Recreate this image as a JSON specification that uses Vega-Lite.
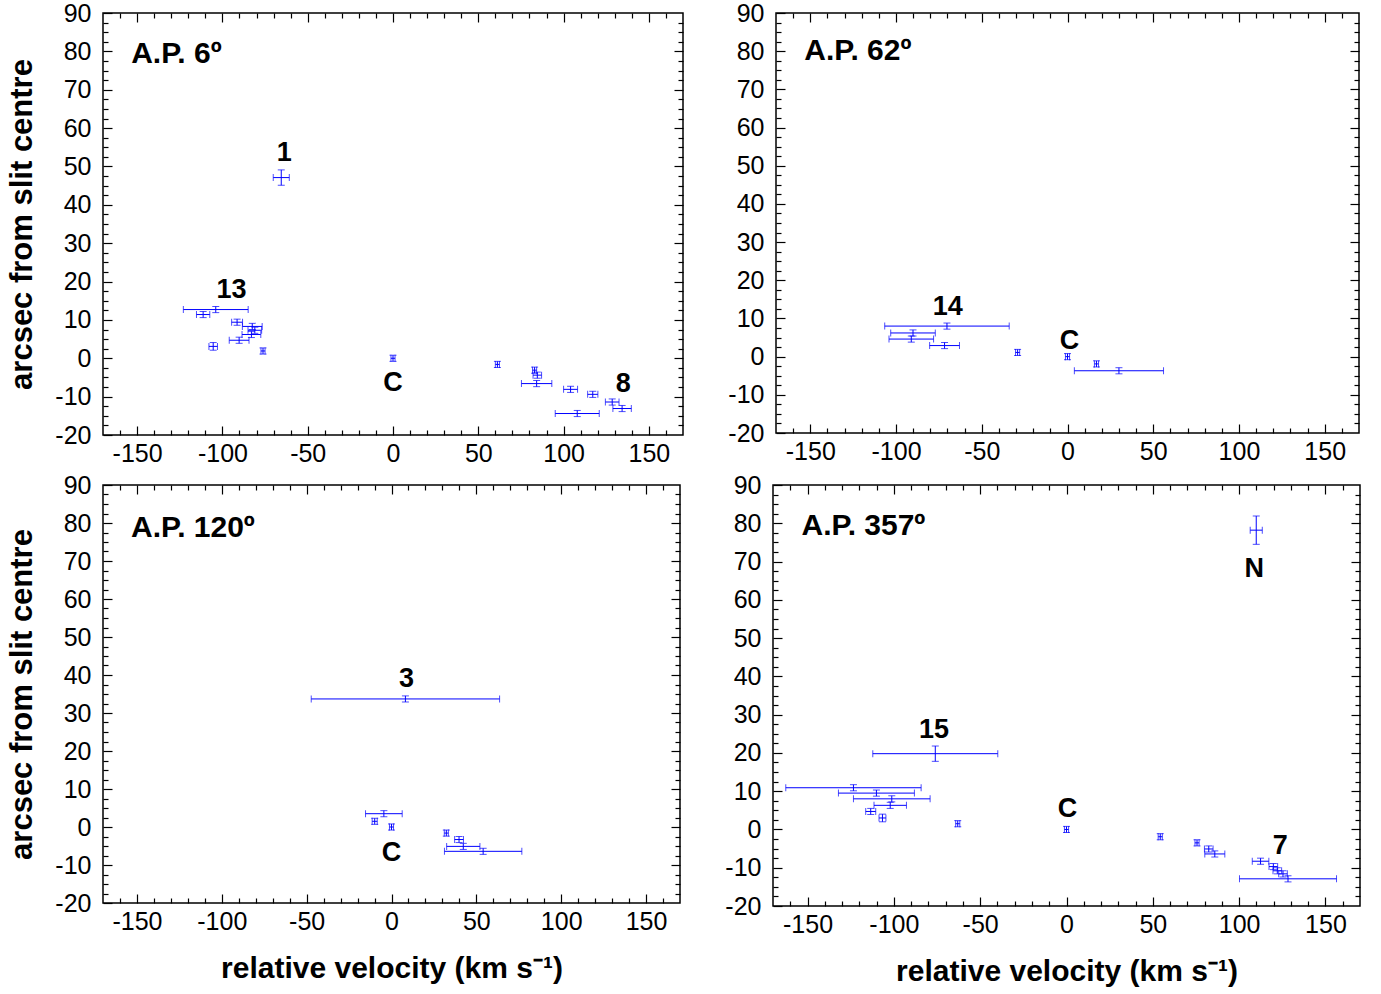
{
  "$schema": "https://vega.github.io/schema/vega-lite/v6.json",
  "padding": {"left": 6, "top": 0, "right": 0, "bottom": 0},
  "background": "white",
  "spacing": 1,
  "config": {
    "font": "Liberation Sans",
    "view": {"stroke": "black", "strokeWidth": 1.5},
    "axis": {
      "domain": false, "grid": false, "labelOverlap": false,
      "labelFont": "Liberation Sans", "labelFontSize": 25, "labelColor": "black",
      "tickColor": "black", "tickWidth": 1.2,
      "titleFont": "Liberation Sans", "titleFontSize": 30, "titleFontWeight": "bold", "titleColor": "black"
    }
  },
  "datasets": {
    "pts": [
      {"p": "p1", "v": -65.5, "a": 47.1, "ve": 4.7, "ae": 2.0},
      {"p": "p1", "v": -103.9, "a": 12.7, "ve": 19, "ae": 0.8},
      {"p": "p1", "v": -111.3, "a": 11.4, "ve": 3.9, "ae": 0.8},
      {"p": "p1", "v": -91.4, "a": 9.4, "ve": 3.2, "ae": 0.8},
      {"p": "p1", "v": -82.5, "a": 8.3, "ve": 5.8, "ae": 0.8},
      {"p": "p1", "v": -81, "a": 7.3, "ve": 4, "ae": 0.8},
      {"p": "p1", "v": -83, "a": 6.2, "ve": 5.5, "ae": 0.8},
      {"p": "p1", "v": -90.2, "a": 4.7, "ve": 5.8, "ae": 0.8},
      {"p": "p1", "v": -105.4, "a": 3.1, "ve": 2.5, "ae": 1.0},
      {"p": "p1", "v": -76.2, "a": 1.9, "ve": 1.2, "ae": 0.8},
      {"p": "p1", "v": 0, "a": 0, "ve": 1.2, "ae": 0.8},
      {"p": "p1", "v": 61.2, "a": -1.6, "ve": 1.2, "ae": 0.8},
      {"p": "p1", "v": 83, "a": -3.1, "ve": 1.2, "ae": 0.8},
      {"p": "p1", "v": 84.6, "a": -4.4, "ve": 2.5, "ae": 0.8},
      {"p": "p1", "v": 84.2, "a": -6.6, "ve": 8.9, "ae": 0.8},
      {"p": "p1", "v": 104.1, "a": -8.1, "ve": 4.1, "ae": 0.8},
      {"p": "p1", "v": 117.1, "a": -9.4, "ve": 3, "ae": 0.8},
      {"p": "p1", "v": 128.5, "a": -11.4, "ve": 4, "ae": 0.8},
      {"p": "p1", "v": 134.3, "a": -13.1, "ve": 5.4, "ae": 0.8},
      {"p": "p1", "v": 108, "a": -14.4, "ve": 12.9, "ae": 0.8},
      {"p": "p2", "v": -70.3, "a": 8.0, "ve": 36.3, "ae": 0.8},
      {"p": "p2", "v": -90.1, "a": 6.2, "ve": 13, "ae": 0.8},
      {"p": "p2", "v": -91.1, "a": 4.6, "ve": 13, "ae": 0.8},
      {"p": "p2", "v": -71.7, "a": 2.9, "ve": 8.7, "ae": 0.8},
      {"p": "p2", "v": -29.1, "a": 1.1, "ve": 1.2, "ae": 0.8},
      {"p": "p2", "v": 0, "a": 0, "ve": 1.2, "ae": 0.8},
      {"p": "p2", "v": 16.9, "a": -1.9, "ve": 1.2, "ae": 0.8},
      {"p": "p2", "v": 30, "a": -3.7, "ve": 26, "ae": 0.8},
      {"p": "p3", "v": 8.2, "a": 33.7, "ve": 55.5, "ae": 0.8},
      {"p": "p3", "v": -4.5, "a": 3.5, "ve": 10.8, "ae": 0.8},
      {"p": "p3", "v": -9.9, "a": 1.5, "ve": 1.5, "ae": 0.8},
      {"p": "p3", "v": 0, "a": 0, "ve": 1.2, "ae": 0.8},
      {"p": "p3", "v": 32.3, "a": -1.6, "ve": 1.2, "ae": 0.8},
      {"p": "p3", "v": 39.8, "a": -3.3, "ve": 2.6, "ae": 0.8},
      {"p": "p3", "v": 42.3, "a": -5.1, "ve": 9.8, "ae": 0.8},
      {"p": "p3", "v": 54, "a": -6.4, "ve": 22.8, "ae": 0.8},
      {"p": "p4", "v": 109.9, "a": 78.2, "ve": 3.5, "ae": 3.7},
      {"p": "p4", "v": -76, "a": 19.8, "ve": 36.2, "ae": 2.0},
      {"p": "p4", "v": -123.4, "a": 10.9, "ve": 39.2, "ae": 0.8},
      {"p": "p4", "v": -110.1, "a": 9.5, "ve": 22, "ae": 0.8},
      {"p": "p4", "v": -101.2, "a": 8.0, "ve": 22.2, "ae": 0.8},
      {"p": "p4", "v": -102.1, "a": 6.3, "ve": 9.4, "ae": 0.8},
      {"p": "p4", "v": -113.4, "a": 4.7, "ve": 2.9, "ae": 0.8},
      {"p": "p4", "v": -106.6, "a": 3.0, "ve": 2, "ae": 1.0},
      {"p": "p4", "v": -63, "a": 1.5, "ve": 1.2, "ae": 0.8},
      {"p": "p4", "v": 0, "a": 0, "ve": 1.2, "ae": 0.8},
      {"p": "p4", "v": 54.3, "a": -1.9, "ve": 1.2, "ae": 0.8},
      {"p": "p4", "v": 75.6, "a": -3.5, "ve": 1.2, "ae": 0.8},
      {"p": "p4", "v": 82.4, "a": -5.1, "ve": 2.5, "ae": 0.8},
      {"p": "p4", "v": 85.9, "a": -6.4, "ve": 5.8, "ae": 0.8},
      {"p": "p4", "v": 112.4, "a": -8.3, "ve": 4.8, "ae": 0.8},
      {"p": "p4", "v": 119.8, "a": -9.7, "ve": 2.5, "ae": 0.8},
      {"p": "p4", "v": 122.1, "a": -10.8, "ve": 2.5, "ae": 0.8},
      {"p": "p4", "v": 125.4, "a": -11.6, "ve": 2.5, "ae": 0.8},
      {"p": "p4", "v": 128.3, "a": -12.9, "ve": 28.1, "ae": 0.8}
    ],
    "lab": [
      {"p": "p1", "v": -63.7, "a": 53.6, "t": "1"},
      {"p": "p1", "v": -94.7, "a": 17.7, "t": "13"},
      {"p": "p1", "v": 0, "a": -6.5, "t": "C"},
      {"p": "p1", "v": 135, "a": -6.8, "t": "8"},
      {"p": "p2", "v": -69.8, "a": 13, "t": "14"},
      {"p": "p2", "v": 1.2, "a": 4.1, "t": "C"},
      {"p": "p3", "v": 8.8, "a": 38.9, "t": "3"},
      {"p": "p3", "v": 0, "a": -6.8, "t": "C"},
      {"p": "p4", "v": 108.7, "a": 68, "t": "N"},
      {"p": "p4", "v": -76.7, "a": 26, "t": "15"},
      {"p": "p4", "v": 0.6, "a": 5.4, "t": "C"},
      {"p": "p4", "v": 123.8, "a": -4.2, "t": "7"}
    ],
    "ttl": [
      {"p": "p1", "v": -153.5, "a": 79.2, "t": "A.P. 6º"},
      {"p": "p2", "v": -153.5, "a": 80, "t": "A.P. 62º"},
      {"p": "p3", "v": -153.5, "a": 78.7, "t": "A.P. 120º"},
      {"p": "p4", "v": -153.5, "a": 79.3, "t": "A.P. 357º"}
    ]
  },
  "vconcat": [
    {
      "spacing": 42,
      "hconcat": [
        {
          "width": 580, "height": 422,
          "layer": [
            {"data": {"name": "pts"}, "transform": [{"filter": "datum.p === 'p1'"}],
             "mark": {"type": "errorbar", "ticks": {"size": 7}, "color": "#0000ff", "thickness": 1},
             "encoding": {
               "x": {"field": "v", "type": "quantitative", "scale": {"domain": [-170, 170], "nice": false, "zero": false},
                     "axis": {"orient": "bottom", "values": [-160,-150,-140,-130,-120,-110,-100,-90,-80,-70,-60,-50,-40,-30,-20,-10,0,10,20,30,40,50,60,70,80,90,100,110,120,130,140,150,160], "labelExpr": "datum.value % 50 === 0 ? '' + datum.value : ''", "tickSize": {"condition": {"test": "datum.value % 50 === 0", "value": -9}, "value": -5}, "labelPadding": 15, "title": null}},
               "xError": {"field": "ve"},
               "y": {"field": "a", "type": "quantitative", "scale": {"domain": [-20, 90], "nice": false, "zero": false},
                     "axis": {"orient": "left", "values": [-20,-17.5,-15,-12.5,-10,-7.5,-5,-2.5,0,2.5,5,7.5,10,12.5,15,17.5,20,22.5,25,27.5,30,32.5,35,37.5,40,42.5,45,47.5,50,52.5,55,57.5,60,62.5,65,67.5,70,72.5,75,77.5,80,82.5,85,87.5,90], "labelExpr": "datum.value % 10 === 0 ? '' + datum.value : ''", "tickSize": {"condition": {"test": "datum.value % 10 === 0", "value": -9}, "value": -5}, "labelPadding": 21, "title": "arcsec from slit centre", "titleFontSize": 31, "titlePadding": 16}}
             }},
            {"data": {"name": "pts"}, "transform": [{"filter": "datum.p === 'p1'"}],
             "mark": {"type": "errorbar", "ticks": {"size": 7}, "color": "#0000ff", "thickness": 1},
             "encoding": {
               "y": {"field": "a", "type": "quantitative", "scale": {"domain": [-20, 90], "nice": false, "zero": false},
                     "axis": {"orient": "right", "values": [-17.5,-15,-12.5,-10,-7.5,-5,-2.5,0,2.5,5,7.5,10,12.5,15,17.5,20,22.5,25,27.5,30,32.5,35,37.5,40,42.5,45,47.5,50,52.5,55,57.5,60,62.5,65,67.5,70,72.5,75,77.5,80,82.5,85,87.5], "labels": false, "tickSize": {"condition": {"test": "datum.value % 10 === 0", "value": -9}, "value": -5}, "title": null}},
               "yError": {"field": "ae"},
               "x": {"field": "v", "type": "quantitative", "scale": {"domain": [-170, 170], "nice": false, "zero": false},
                     "axis": {"orient": "top", "values": [-160,-150,-140,-130,-120,-110,-100,-90,-80,-70,-60,-50,-40,-30,-20,-10,0,10,20,30,40,50,60,70,80,90,100,110,120,130,140,150,160], "labels": false, "tickSize": {"condition": {"test": "datum.value % 50 === 0", "value": -9}, "value": -5}, "title": null}}
             }},
            {"data": {"name": "lab"}, "transform": [{"filter": "datum.p === 'p1'"}],
             "mark": {"type": "text", "font": "Liberation Sans", "fontWeight": "bold", "fontSize": 27, "align": "center", "baseline": "middle", "color": "black"},
             "encoding": {"x": {"field": "v", "type": "quantitative", "axis": null}, "y": {"field": "a", "type": "quantitative", "axis": null}, "text": {"field": "t"}}},
            {"data": {"name": "ttl"}, "transform": [{"filter": "datum.p === 'p1'"}],
             "mark": {"type": "text", "font": "Liberation Sans", "fontWeight": "bold", "fontSize": 30, "align": "left", "baseline": "middle", "color": "black"},
             "encoding": {"x": {"field": "v", "type": "quantitative", "axis": null}, "y": {"field": "a", "type": "quantitative", "axis": null}, "text": {"field": "t"}}}
          ],
          "resolve": {"axis": {"x": "independent", "y": "independent"}}
        },
        {
          "width": 583, "height": 420,
          "layer": [
            {"data": {"name": "pts"}, "transform": [{"filter": "datum.p === 'p2'"}],
             "mark": {"type": "errorbar", "ticks": {"size": 7}, "color": "#0000ff", "thickness": 1},
             "encoding": {
               "x": {"field": "v", "type": "quantitative", "scale": {"domain": [-170, 170], "nice": false, "zero": false},
                     "axis": {"orient": "bottom", "values": [-160,-150,-140,-130,-120,-110,-100,-90,-80,-70,-60,-50,-40,-30,-20,-10,0,10,20,30,40,50,60,70,80,90,100,110,120,130,140,150,160], "labelExpr": "datum.value % 50 === 0 ? '' + datum.value : ''", "tickSize": {"condition": {"test": "datum.value % 50 === 0", "value": -9}, "value": -5}, "labelPadding": 15, "title": null}},
               "xError": {"field": "ve"},
               "y": {"field": "a", "type": "quantitative", "scale": {"domain": [-20, 90], "nice": false, "zero": false},
                     "axis": {"orient": "left", "values": [-20,-17.5,-15,-12.5,-10,-7.5,-5,-2.5,0,2.5,5,7.5,10,12.5,15,17.5,20,22.5,25,27.5,30,32.5,35,37.5,40,42.5,45,47.5,50,52.5,55,57.5,60,62.5,65,67.5,70,72.5,75,77.5,80,82.5,85,87.5,90], "labelExpr": "datum.value % 10 === 0 ? '' + datum.value : ''", "tickSize": {"condition": {"test": "datum.value % 10 === 0", "value": -9}, "value": -5}, "labelPadding": 21, "title": null}}
             }},
            {"data": {"name": "pts"}, "transform": [{"filter": "datum.p === 'p2'"}],
             "mark": {"type": "errorbar", "ticks": {"size": 7}, "color": "#0000ff", "thickness": 1},
             "encoding": {
               "y": {"field": "a", "type": "quantitative", "scale": {"domain": [-20, 90], "nice": false, "zero": false},
                     "axis": {"orient": "right", "values": [-17.5,-15,-12.5,-10,-7.5,-5,-2.5,0,2.5,5,7.5,10,12.5,15,17.5,20,22.5,25,27.5,30,32.5,35,37.5,40,42.5,45,47.5,50,52.5,55,57.5,60,62.5,65,67.5,70,72.5,75,77.5,80,82.5,85,87.5], "labels": false, "tickSize": {"condition": {"test": "datum.value % 10 === 0", "value": -9}, "value": -5}, "title": null}},
               "yError": {"field": "ae"},
               "x": {"field": "v", "type": "quantitative", "scale": {"domain": [-170, 170], "nice": false, "zero": false},
                     "axis": {"orient": "top", "values": [-160,-150,-140,-130,-120,-110,-100,-90,-80,-70,-60,-50,-40,-30,-20,-10,0,10,20,30,40,50,60,70,80,90,100,110,120,130,140,150,160], "labels": false, "tickSize": {"condition": {"test": "datum.value % 50 === 0", "value": -9}, "value": -5}, "title": null}}
             }},
            {"data": {"name": "lab"}, "transform": [{"filter": "datum.p === 'p2'"}],
             "mark": {"type": "text", "font": "Liberation Sans", "fontWeight": "bold", "fontSize": 27, "align": "center", "baseline": "middle", "color": "black"},
             "encoding": {"x": {"field": "v", "type": "quantitative", "axis": null}, "y": {"field": "a", "type": "quantitative", "axis": null}, "text": {"field": "t"}}},
            {"data": {"name": "ttl"}, "transform": [{"filter": "datum.p === 'p2'"}],
             "mark": {"type": "text", "font": "Liberation Sans", "fontWeight": "bold", "fontSize": 30, "align": "left", "baseline": "middle", "color": "black"},
             "encoding": {"x": {"field": "v", "type": "quantitative", "axis": null}, "y": {"field": "a", "type": "quantitative", "axis": null}, "text": {"field": "t"}}}
          ],
          "resolve": {"axis": {"x": "independent", "y": "independent"}}
        }
      ]
    },
    {
      "spacing": 42,
      "hconcat": [
        {
          "width": 577, "height": 418,
          "layer": [
            {"data": {"name": "pts"}, "transform": [{"filter": "datum.p === 'p3'"}],
             "mark": {"type": "errorbar", "ticks": {"size": 7}, "color": "#0000ff", "thickness": 1},
             "encoding": {
               "x": {"field": "v", "type": "quantitative", "scale": {"domain": [-170, 170], "nice": false, "zero": false},
                     "axis": {"orient": "bottom", "values": [-160,-150,-140,-130,-120,-110,-100,-90,-80,-70,-60,-50,-40,-30,-20,-10,0,10,20,30,40,50,60,70,80,90,100,110,120,130,140,150,160], "labelExpr": "datum.value % 50 === 0 ? '' + datum.value : ''", "tickSize": {"condition": {"test": "datum.value % 50 === 0", "value": -9}, "value": -5}, "labelPadding": 15, "title": "relative velocity (km s⁻¹)", "titlePadding": 15}},
               "xError": {"field": "ve"},
               "y": {"field": "a", "type": "quantitative", "scale": {"domain": [-20, 90], "nice": false, "zero": false},
                     "axis": {"orient": "left", "values": [-20,-17.5,-15,-12.5,-10,-7.5,-5,-2.5,0,2.5,5,7.5,10,12.5,15,17.5,20,22.5,25,27.5,30,32.5,35,37.5,40,42.5,45,47.5,50,52.5,55,57.5,60,62.5,65,67.5,70,72.5,75,77.5,80,82.5,85,87.5,90], "labelExpr": "datum.value % 10 === 0 ? '' + datum.value : ''", "tickSize": {"condition": {"test": "datum.value % 10 === 0", "value": -9}, "value": -5}, "labelPadding": 21, "title": "arcsec from slit centre", "titleFontSize": 31, "titlePadding": 16}}
             }},
            {"data": {"name": "pts"}, "transform": [{"filter": "datum.p === 'p3'"}],
             "mark": {"type": "errorbar", "ticks": {"size": 7}, "color": "#0000ff", "thickness": 1},
             "encoding": {
               "y": {"field": "a", "type": "quantitative", "scale": {"domain": [-20, 90], "nice": false, "zero": false},
                     "axis": {"orient": "right", "values": [-17.5,-15,-12.5,-10,-7.5,-5,-2.5,0,2.5,5,7.5,10,12.5,15,17.5,20,22.5,25,27.5,30,32.5,35,37.5,40,42.5,45,47.5,50,52.5,55,57.5,60,62.5,65,67.5,70,72.5,75,77.5,80,82.5,85,87.5], "labels": false, "tickSize": {"condition": {"test": "datum.value % 10 === 0", "value": -9}, "value": -5}, "title": null}},
               "yError": {"field": "ae"},
               "x": {"field": "v", "type": "quantitative", "scale": {"domain": [-170, 170], "nice": false, "zero": false},
                     "axis": {"orient": "top", "values": [-160,-150,-140,-130,-120,-110,-100,-90,-80,-70,-60,-50,-40,-30,-20,-10,0,10,20,30,40,50,60,70,80,90,100,110,120,130,140,150,160], "labels": false, "tickSize": {"condition": {"test": "datum.value % 50 === 0", "value": -9}, "value": -5}, "title": null}}
             }},
            {"data": {"name": "lab"}, "transform": [{"filter": "datum.p === 'p3'"}],
             "mark": {"type": "text", "font": "Liberation Sans", "fontWeight": "bold", "fontSize": 27, "align": "center", "baseline": "middle", "color": "black"},
             "encoding": {"x": {"field": "v", "type": "quantitative", "axis": null}, "y": {"field": "a", "type": "quantitative", "axis": null}, "text": {"field": "t"}}},
            {"data": {"name": "ttl"}, "transform": [{"filter": "datum.p === 'p3'"}],
             "mark": {"type": "text", "font": "Liberation Sans", "fontWeight": "bold", "fontSize": 30, "align": "left", "baseline": "middle", "color": "black"},
             "encoding": {"x": {"field": "v", "type": "quantitative", "axis": null}, "y": {"field": "a", "type": "quantitative", "axis": null}, "text": {"field": "t"}}}
          ],
          "resolve": {"axis": {"x": "independent", "y": "independent"}}
        },
        {
          "width": 587, "height": 421,
          "layer": [
            {"data": {"name": "pts"}, "transform": [{"filter": "datum.p === 'p4'"}],
             "mark": {"type": "errorbar", "ticks": {"size": 7}, "color": "#0000ff", "thickness": 1},
             "encoding": {
               "x": {"field": "v", "type": "quantitative", "scale": {"domain": [-170, 170], "nice": false, "zero": false},
                     "axis": {"orient": "bottom", "values": [-160,-150,-140,-130,-120,-110,-100,-90,-80,-70,-60,-50,-40,-30,-20,-10,0,10,20,30,40,50,60,70,80,90,100,110,120,130,140,150,160], "labelExpr": "datum.value % 50 === 0 ? '' + datum.value : ''", "tickSize": {"condition": {"test": "datum.value % 50 === 0", "value": -9}, "value": -5}, "labelPadding": 15, "title": "relative velocity (km s⁻¹)", "titlePadding": 15}},
               "xError": {"field": "ve"},
               "y": {"field": "a", "type": "quantitative", "scale": {"domain": [-20, 90], "nice": false, "zero": false},
                     "axis": {"orient": "left", "values": [-20,-17.5,-15,-12.5,-10,-7.5,-5,-2.5,0,2.5,5,7.5,10,12.5,15,17.5,20,22.5,25,27.5,30,32.5,35,37.5,40,42.5,45,47.5,50,52.5,55,57.5,60,62.5,65,67.5,70,72.5,75,77.5,80,82.5,85,87.5,90], "labelExpr": "datum.value % 10 === 0 ? '' + datum.value : ''", "tickSize": {"condition": {"test": "datum.value % 10 === 0", "value": -9}, "value": -5}, "labelPadding": 21, "title": null}}
             }},
            {"data": {"name": "pts"}, "transform": [{"filter": "datum.p === 'p4'"}],
             "mark": {"type": "errorbar", "ticks": {"size": 7}, "color": "#0000ff", "thickness": 1},
             "encoding": {
               "y": {"field": "a", "type": "quantitative", "scale": {"domain": [-20, 90], "nice": false, "zero": false},
                     "axis": {"orient": "right", "values": [-17.5,-15,-12.5,-10,-7.5,-5,-2.5,0,2.5,5,7.5,10,12.5,15,17.5,20,22.5,25,27.5,30,32.5,35,37.5,40,42.5,45,47.5,50,52.5,55,57.5,60,62.5,65,67.5,70,72.5,75,77.5,80,82.5,85,87.5], "labels": false, "tickSize": {"condition": {"test": "datum.value % 10 === 0", "value": -9}, "value": -5}, "title": null}},
               "yError": {"field": "ae"},
               "x": {"field": "v", "type": "quantitative", "scale": {"domain": [-170, 170], "nice": false, "zero": false},
                     "axis": {"orient": "top", "values": [-160,-150,-140,-130,-120,-110,-100,-90,-80,-70,-60,-50,-40,-30,-20,-10,0,10,20,30,40,50,60,70,80,90,100,110,120,130,140,150,160], "labels": false, "tickSize": {"condition": {"test": "datum.value % 50 === 0", "value": -9}, "value": -5}, "title": null}}
             }},
            {"data": {"name": "lab"}, "transform": [{"filter": "datum.p === 'p4'"}],
             "mark": {"type": "text", "font": "Liberation Sans", "fontWeight": "bold", "fontSize": 27, "align": "center", "baseline": "middle", "color": "black"},
             "encoding": {"x": {"field": "v", "type": "quantitative", "axis": null}, "y": {"field": "a", "type": "quantitative", "axis": null}, "text": {"field": "t"}}},
            {"data": {"name": "ttl"}, "transform": [{"filter": "datum.p === 'p4'"}],
             "mark": {"type": "text", "font": "Liberation Sans", "fontWeight": "bold", "fontSize": 30, "align": "left", "baseline": "middle", "color": "black"},
             "encoding": {"x": {"field": "v", "type": "quantitative", "axis": null}, "y": {"field": "a", "type": "quantitative", "axis": null}, "text": {"field": "t"}}}
          ],
          "resolve": {"axis": {"x": "independent", "y": "independent"}}
        }
      ]
    }
  ]
}
